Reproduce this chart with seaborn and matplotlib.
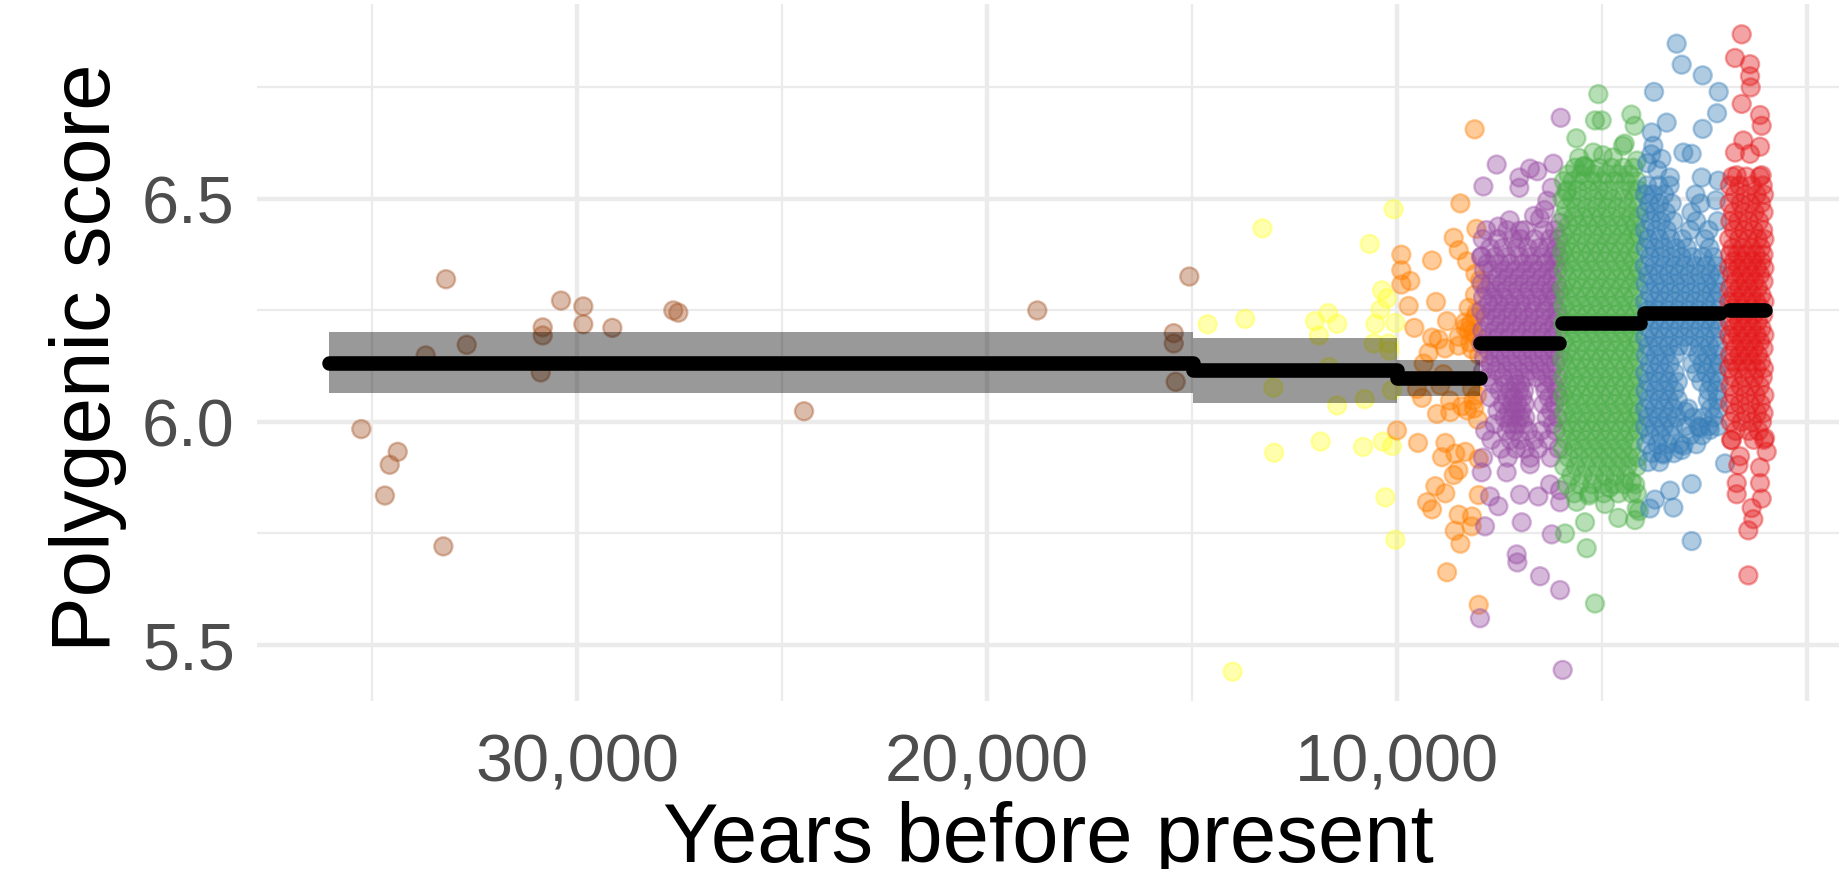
"""
Polygenic score through time
Individual scores by period, with period means and confidence bands
"""

import numpy as np
import pandas as pd
import matplotlib
matplotlib.use("Agg")
import matplotlib.pyplot as plt
import seaborn as sns

sns.set_theme(style="white")
plt.rcParams['font.family'] = ['Liberation Sans', 'DejaVu Sans']

PERIODS = ['Upper Paleolithic', 'Late Paleolithic', 'Mesolithic', 'Neolithic',
           'Chalcolithic', 'Bronze Age', 'Historical']
PERIOD_COLORS = ['#A65628', '#FFFF33', '#FF7F00', '#984EA3',
                 '#4DAF4A', '#377EB8', '#E41A1C']

# period mean segments and their bands
SEG_START = [36050, 14980, 10000, 7976, 5984, 3976, 1902]
SEG_END = [14980, 10000, 7975, 6041, 4073, 2122, 1024]
SEG_MEAN = [6.133, 6.116, 6.099, 6.178, 6.222, 6.245, 6.251]
SEG_LOW = [6.065, 6.043, 6.059, 6.165, 6.209, 6.232, 6.236]
SEG_HIGH = [6.202, 6.188, 6.138, 6.191, 6.235, 6.258, 6.266]

X_TICKS = [30000, 20000, 10000, 0]
X_TICK_LABELS = ['30,000', '20,000', '10,000', '']
X_MINOR = [35000, 25000, 15000, 5000]
Y_TICKS = [5.5, 6.0, 6.5]
Y_MINOR = [5.75, 6.25, 6.75]

# ---- individual samples (years before present, score) ----
brown = [(35261, 5.984), (34686, 5.835), (34568, 5.904), (34373, 5.933),
         (33195, 6.320), (33260, 5.721), (33690, 6.149), (32690, 6.173), (30837, 6.212),
         (30837, 6.194), (30885, 6.111), (30390, 6.272), (29846, 6.259), (29846, 6.219),
         (29138, 6.211), (27651, 6.250), (27529, 6.245), (24463, 6.024), (18773, 6.250),
         (15066, 6.326), (15446, 6.199), (15446, 6.176), (15398, 6.090)]

yellow = [(13282, 6.434), (14619, 6.219), (13703, 6.231), (13015, 6.077), (12998, 5.931),
          (14011, 5.440), (12002, 6.226), (11677, 6.244), (11459, 6.220), (11904, 6.194),
          (11661, 6.123), (11459, 6.037), (11864, 5.956), (10827, 5.944), (10786, 6.051),
          (10665, 6.399), (10081, 6.477), (10365, 6.295), (10243, 6.277), (10405, 6.252),
          (10527, 6.220), (10041, 6.222), (10567, 6.176), (10203, 6.176), (10186, 6.160),
          (10122, 6.071), (10348, 5.956), (10122, 5.946), (10284, 5.831), (10041, 5.736)]

orange = [(8106, 6.656), (8455, 6.490), (8065, 6.433), (8618, 6.413), (8496, 6.385),
          (8293, 6.360), (8089, 6.332), (9146, 6.362), (9894, 6.375), (9894, 6.340),
          (9675, 6.316), (9894, 6.308), (9715, 6.260), (9049, 6.269), (9577, 6.211),
          (8780, 6.226), (8252, 6.256), (8089, 6.235), (8333, 6.211), (8496, 6.191),
          (9146, 6.189), (8984, 6.185), (9350, 6.131), (9228, 6.155), (8496, 6.171),
          (8171, 6.163), (9512, 6.074), (9390, 6.054), (9024, 6.018), (8699, 6.022),
          (8415, 6.035), (8293, 6.026), (8943, 6.082), (8171, 6.074), (10000, 5.981),
          (9488, 5.953), (8821, 5.953), (8902, 5.921), (8577, 5.929), (8333, 5.933),
          (8008, 5.917), (8618, 5.881), (9065, 5.856), (8821, 5.840), (9268, 5.820),
          (9146, 5.804), (8496, 5.792), (8171, 5.788), (8593, 5.756), (8455, 5.727),
          (8780, 5.663), (8008, 5.590), (8008, 5.836), (7976, 6.317), (8057, 6.246),
          (8341, 6.223), (8138, 6.201), (8219, 6.178), (8829, 6.165), (8870, 6.107),
          (8707, 6.048), (8138, 6.048), (8504, 5.892), (8179, 5.766), (8100, 6.285),
          (8050, 6.190), (8200, 6.220), (8000, 6.150), (8120, 6.030), (8050, 6.060),
          (8030, 6.005), (8250, 6.205)]

purple_outliers = [(6008, 6.682), (7569, 6.577), (7894, 6.528), (7016, 6.548), (7016, 6.525),
                   (6756, 6.568), (6577, 6.562), (6187, 6.579), (6228, 6.525), (6333, 6.496),
                   (6512, 6.456), (7529, 6.438), (7000, 6.429), (6024, 6.447), (7935, 6.371),
                   (7854, 5.766), (6959, 5.775), (7081, 5.703), (7065, 5.685), (6512, 5.654),
                   (6024, 5.623), (6228, 5.748), (7976, 5.560), (5959, 5.444), (7935, 5.887),
                   (7732, 5.833), (7529, 5.811), (7000, 5.837), (6553, 5.833), (6268, 5.860),
                   (6024, 5.820), (6024, 5.847), (7326, 5.887), (6756, 5.905), (6660, 6.462),
                   (7250, 6.452), (6400, 6.475)]

# dense cloud, read band by band: (score, ages)
purple_rows = [
    (6.43, [7820, 7310, 6880, 6420, 6150]),
    (6.41, [7910, 7540, 7180, 6990, 6640, 6270, 6060]),
    (6.39, [7730, 7420, 7090, 6810, 6530, 6330, 6110]),
    (6.37, [7950, 7610, 7330, 7010, 6760, 6470, 6200, 6050]),
    (6.355, [7800, 7490, 7240, 6920, 6680, 6390, 6140]),
    (6.34, [7880, 7680, 7380, 7120, 6850, 6570, 6300, 6080]),
    (6.325, [7560, 7290, 7020, 6740, 6460, 6210]),
    (6.31, [7940, 7720, 7450, 7170, 6900, 6620, 6360, 6100]),
    (6.295, [7830, 7600, 7340, 7060, 6790, 6520, 6260, 6045]),
    (6.28, [7900, 7650, 7400, 7130, 6870, 6600, 6330, 6140]),
    (6.265, [7770, 7520, 7260, 6980, 6710, 6440, 6190]),
    (6.25, [7950, 7690, 7430, 7190, 6940, 6660, 6390, 6090]),
    (6.235, [7850, 7580, 7300, 7040, 6780, 6510, 6240, 6060]),
    (6.22, [7740, 7470, 7210, 6950, 6690, 6420, 6170]),
    (6.205, [7920, 7630, 7370, 7100, 6830, 6560, 6300, 6080]),
    (6.19, [7800, 7540, 7280, 7000, 6740, 6470, 6210]),
    (6.175, [7940, 7690, 7410, 7150, 6880, 6610, 6350, 6110]),
    (6.16, [7760, 7500, 7230, 6960, 6700, 6430, 6160]),
    (6.145, [7880, 7620, 7350, 7080, 6820, 6540, 6280, 6050]),
    (6.13, [7720, 7460, 7190, 6910, 6650, 6380, 6130]),
    (6.115, [7900, 7580, 7310, 7040, 6770, 6500, 6230]),
    (6.10, [7790, 7420, 7140, 6870, 6600, 6330, 6070]),
    (6.085, [7650, 7360, 7090, 6980, 6420, 6180]),
    (6.07, [7500, 7240, 7020, 6900, 6380, 6100]),
    (6.055, [7730, 7320, 7160, 6940, 6300, 6050]),
    (6.04, [7420, 7200, 7060, 6880, 6430, 6160]),
    (6.025, [7550, 7280, 7110, 6960, 6250]),
    (6.01, [7380, 7190, 7000, 6870, 6350, 6080]),
    (5.995, [7620, 7260, 7080, 6920, 6200]),
    (5.98, [7850, 7330, 7140, 6800, 6480, 6130]),
    (5.96, [7700, 7230, 6990, 6650, 6310]),
    (5.94, [7460, 7100, 6880, 6560, 6060]),
    (5.92, [7900, 7300, 6750, 6250]),
]

green_outliers = [(5090, 6.735), (5171, 6.676), (5008, 6.676), (5626, 6.636), (4285, 6.689),
                  (4204, 6.664), (4447, 6.624), (5211, 6.604), (5455, 6.573), (4732, 6.593),
                  (5870, 6.516), (5423, 6.574), (4488, 6.619), (5171, 5.593), (5374, 5.717),
                  (5415, 5.775), (5902, 5.750), (4927, 5.816), (4602, 5.785), (4195, 5.780),
                  (4155, 5.806), (5618, 5.821), (4276, 5.866), (4150, 5.840), (4100, 5.800),
                  (5560, 6.592), (4980, 6.598), (4150, 6.586), (5320, 5.835), (4820, 5.852)]

green_rows = [
    (6.57, [5660, 5380, 5070, 4760, 4480, 4230]),
    (6.555, [5820, 5510, 5190, 4900, 4610, 4330]),
    (6.54, [5930, 5720, 5450, 5240, 4990, 4700, 4420, 4150]),
    (6.52, [5850, 5600, 5330, 5080, 4850, 4560, 4290, 4110]),
    (6.50, [5960, 5740, 5490, 5210, 4970, 4740, 4480, 4220]),
    (6.48, [5880, 5630, 5380, 5130, 4880, 4630, 4380, 4130]),
    (6.46, [5940, 5700, 5460, 5250, 5010, 4780, 4540, 4300, 4100]),
    (6.44, [5820, 5590, 5340, 5100, 4860, 4610, 4400, 4180]),
    (6.42, [5950, 5730, 5480, 5220, 4990, 4750, 4500, 4260, 4090]),
    (6.40, [5870, 5620, 5390, 5150, 4910, 4680, 4440, 4200]),
    (6.38, [5960, 5750, 5510, 5270, 5040, 4800, 4570, 4330, 4120]),
    (6.36, [5880, 5640, 5400, 5170, 4930, 4690, 4460, 4230]),
    (6.34, [5930, 5710, 5470, 5240, 5000, 4760, 4520, 4290, 4100]),
    (6.32, [5850, 5600, 5360, 5120, 4880, 4650, 4410, 4180]),
    (6.30, [5960, 5740, 5500, 5270, 5030, 4800, 4560, 4330, 4110]),
    (6.28, [5890, 5650, 5410, 5180, 4940, 4710, 4470, 4240]),
    (6.26, [5940, 5720, 5480, 5240, 5010, 4770, 4540, 4300, 4090]),
    (6.24, [5860, 5610, 5380, 5140, 4900, 4670, 4430, 4200]),
    (6.22, [5950, 5730, 5500, 5260, 5020, 4790, 4550, 4320, 4120]),
    (6.20, [5880, 5640, 5400, 5170, 4930, 4700, 4460, 4230]),
    (6.18, [5930, 5710, 5470, 5230, 5000, 4760, 4530, 4290, 4100]),
    (6.16, [5850, 5620, 5380, 5150, 4910, 4680, 4440, 4210]),
    (6.14, [5960, 5740, 5510, 5270, 5040, 4800, 4570, 4330, 4110]),
    (6.12, [5870, 5630, 5400, 5160, 4930, 4690, 4450, 4220]),
    (6.10, [5940, 5710, 5480, 5240, 5010, 4770, 4540, 4300, 4090]),
    (6.08, [5860, 5620, 5390, 5150, 4920, 4680, 4450, 4210]),
    (6.06, [5950, 5730, 5490, 5260, 5020, 4790, 4550, 4320, 4120]),
    (6.04, [5880, 5650, 5410, 5170, 4940, 4700, 4470, 4230]),
    (6.02, [5920, 5700, 5460, 5230, 4990, 4760, 4520, 4290, 4100]),
    (6.00, [5850, 5610, 5370, 5140, 4900, 4670, 4430, 4200]),
    (5.98, [5940, 5720, 5490, 5250, 5020, 4780, 4550, 4310, 4110]),
    (5.96, [5870, 5640, 5400, 5160, 4930, 4690, 4460, 4220]),
    (5.94, [5950, 5690, 5450, 5210, 4970, 4740, 4500, 4270]),
    (5.92, [5810, 5560, 5300, 5060, 4820, 4580, 4340, 4130]),
    (5.90, [5920, 5640, 5380, 5110, 4860, 4620, 4380, 4150]),
    (5.88, [5750, 5470, 5200, 4930, 4680, 4420]),
    (5.86, [5860, 5550, 5240, 4990, 4710, 4460, 4190]),
    (5.84, [5680, 5310, 4960, 4600, 4280]),
]

blue_outliers = [(3179, 6.848), (3057, 6.801), (2545, 6.777), (3732, 6.740), (2154, 6.740),
                 (2195, 6.692), (2545, 6.657), (3423, 6.671), (3789, 6.649), (3748, 6.619),
                 (3016, 6.604), (2813, 6.601), (2569, 6.548), (2163, 6.541), (3341, 6.548),
                 (2220, 6.497), (2813, 5.733), (2813, 5.861), (3260, 5.808), (3341, 5.846),
                 (3707, 5.826), (3016, 5.947), (3057, 5.937), (2000, 5.907), (2976, 6.023),
                 (2366, 5.982), (2610, 5.987), (3504, 5.927), (3829, 5.806), (3900, 6.58),
                 (3800, 6.60), (3650, 6.565), (3550, 6.59)]

blue_rows = [
    (6.53, [3900, 3620, 3350]),
    (6.51, [3950, 3760, 3480, 2720]),
    (6.49, [3850, 3600, 3300, 2600]),
    (6.47, [3930, 3700, 3440, 2820]),
    (6.45, [3820, 3560, 3260, 2700, 2180]),
    (6.43, [3950, 3680, 3420, 2850, 2400]),
    (6.41, [3870, 3600, 3330, 3040, 2490]),
    (6.39, [3940, 3720, 3480, 3200, 2930, 2380]),
    (6.37, [3830, 3570, 3310, 3060, 2800, 2540, 2280]),
    (6.35, [3960, 3730, 3480, 3230, 2980, 2720, 2460, 2200]),
    (6.33, [3870, 3620, 3370, 3120, 2870, 2610, 2360, 2140]),
    (6.31, [3940, 3700, 3460, 3210, 2960, 2700, 2450, 2220]),
    (6.29, [3830, 3590, 3340, 3090, 2840, 2590, 2330, 2140]),
    (6.27, [3950, 3720, 3480, 3230, 2980, 2730, 2480, 2240]),
    (6.25, [3880, 3640, 3390, 3140, 2890, 2640, 2390, 2160]),
    (6.23, [3940, 3700, 3460, 3210, 2960, 2710, 2460, 2230]),
    (6.21, [3850, 3600, 3360, 3110, 2860, 2610, 2360, 2150]),
    (6.19, [3950, 3730, 3480, 3240, 2990, 2740, 2490, 2240]),
    (6.17, [3870, 3630, 3380, 3130, 2870, 2620, 2380, 2170]),
    (6.15, [3930, 3690, 3450, 3220, 2660, 2430, 2200]),
    (6.13, [3840, 3600, 3350, 2800, 2550, 2310, 2140]),
    (6.11, [3950, 3710, 3470, 3230, 2700, 2460, 2220]),
    (6.09, [3870, 3620, 3380, 3150, 2580, 2340, 2150]),
    (6.07, [3940, 3700, 3460, 3230, 2400, 2200]),
    (6.05, [3860, 3610, 3370, 3150, 2420, 2180]),
    (6.03, [3950, 3720, 3480, 3250, 2900, 2350, 2160]),
    (6.01, [3880, 3640, 3400, 3180, 2780, 2540, 2280]),
    (5.99, [3950, 3720, 3490, 3260, 2960, 2650, 2400, 2180]),
    (5.97, [3830, 3570, 3320, 2840, 2560]),
    (5.95, [3920, 3650, 3400, 3100, 2700]),
    (5.93, [3780, 3520, 3250]),
    (5.91, [3880, 3600]),
]

red_outliers = [(1593, 6.869), (1756, 6.816), (1390, 6.802), (1390, 6.775), (1374, 6.750),
                (1593, 6.713), (1146, 6.688), (1106, 6.664), (1553, 6.631), (1756, 6.604),
                (1390, 6.601), (1146, 6.617), (1715, 6.553), (1106, 6.553), (1431, 5.656),
                (1431, 5.757), (1309, 5.782), (1350, 5.807), (1106, 5.828), (1715, 5.838),
                (1715, 5.863), (1675, 5.903), (1146, 5.863), (1146, 5.898), (1837, 5.959),
                (984, 5.933), (1025, 5.964), (1634, 5.923)]

red_rows = [
    (6.55, [1820, 1480, 1150]),
    (6.53, [1880, 1650, 1350, 1080]),
    (6.51, [1760, 1500, 1230, 1050]),
    (6.49, [1890, 1620, 1380, 1120]),
    (6.47, [1800, 1540, 1280, 1060]),
    (6.45, [1870, 1680, 1420, 1170]),
    (6.43, [1780, 1530, 1300, 1070]),
    (6.41, [1900, 1660, 1440, 1200, 1040]),
    (6.39, [1820, 1580, 1350, 1120]),
    (6.375, [1880, 1700, 1480, 1250, 1060]),
    (6.36, [1790, 1560, 1330, 1110]),
    (6.345, [1900, 1680, 1450, 1220, 1040]),
    (6.33, [1830, 1600, 1370, 1140]),
    (6.315, [1750, 1510, 1280, 1060]),
    (6.30, [1880, 1660, 1430, 1200]),
    (6.285, [1800, 1570, 1340, 1110]),
    (6.27, [1900, 1700, 1470, 1240, 1040]),
    (6.255, [1820, 1590, 1360, 1130]),
    (6.24, [1760, 1530, 1300, 1070]),
    (6.225, [1890, 1660, 1430, 1200]),
    (6.21, [1800, 1570, 1340, 1110]),
    (6.195, [1900, 1690, 1460, 1230, 1040]),
    (6.18, [1830, 1600, 1370, 1140]),
    (6.165, [1760, 1520, 1290, 1060]),
    (6.15, [1880, 1650, 1420, 1190]),
    (6.135, [1810, 1580, 1350, 1120]),
    (6.12, [1900, 1690, 1460, 1230, 1050]),
    (6.10, [1800, 1540, 1290, 1080]),
    (6.08, [1870, 1620, 1380, 1150]),
    (6.06, [1780, 1500, 1250, 1040]),
    (6.04, [1880, 1640, 1390, 1130]),
    (6.02, [1760, 1480, 1220, 1060]),
    (6.00, [1860, 1600, 1330, 1100]),
    (5.98, [1740, 1420, 1180]),
    (5.96, [1850, 1300, 1050]),
]


def rows_to_points(rows):
    """Unpack (score, [ages]) bands into (age, score) pairs"""
    return [(age, score) for score, ages in rows for age in ages]


def build_frame():
    groups = [
        brown,
        yellow,
        orange,
        purple_outliers + rows_to_points(purple_rows),
        green_outliers + rows_to_points(green_rows),
        blue_outliers + rows_to_points(blue_rows),
        red_outliers + rows_to_points(red_rows),
    ]
    frames = []
    for period, pts in zip(PERIODS, groups):
        d = pd.DataFrame(pts, columns=['age', 'score'])
        d['period'] = period
        frames.append(d)
    return pd.concat(frames, ignore_index=True)


def main():
    df = build_frame()

    W, H = 1839, 870
    fig = plt.figure(figsize=(W / 100, H / 100), dpi=100)
    ax = fig.add_axes([257 / W, 1 - 702 / H, (W - 257) / W, 697 / H])

    sns.scatterplot(data=df, x='age', y='score', hue='period',
                    hue_order=PERIODS, palette=PERIOD_COLORS,
                    s=170, alpha=0.4, edgecolor='face', linewidth=1.7,
                    legend=False, ax=ax, zorder=2)

    # confidence bands and period means
    for x0, x1, lo, hi, m in zip(SEG_START, SEG_END, SEG_LOW, SEG_HIGH, SEG_MEAN):
        ax.fill_between([x0, x1], [lo, lo], [hi, hi], color='black',
                        alpha=0.4, linewidth=0, zorder=3)
        ax.plot([x0, x1], [m, m], color='black', linewidth=10.5,
                solid_capstyle='round', zorder=4)

    ax.set_xlim(37805, -780)
    ax.set_ylim(5.3744, 6.937)

    ax.set_xticks(X_TICKS, labels=X_TICK_LABELS)
    ax.set_xticks(X_MINOR, minor=True)
    ax.set_yticks(Y_TICKS, labels=[f'{v:.1f}' for v in Y_TICKS])
    ax.set_yticks(Y_MINOR, minor=True)

    ax.set_axisbelow(True)
    ax.grid(which='major', color='#EBEBEB', linewidth=3.2)
    ax.grid(which='minor', color='#EBEBEB', linewidth=1.6)
    ax.tick_params(which='both', length=0)
    ax.tick_params(axis='x', pad=23, labelsize=48, labelcolor='#4D4D4D')
    ax.tick_params(axis='y', pad=16, labelsize=48, labelcolor='#4D4D4D')
    sns.despine(ax=ax, left=True, bottom=True)

    ax.set_xlabel('')
    ax.set_ylabel('')
    fig.text(1048 / W, 8 / H, 'Years before present', fontsize=60,
             ha='center', va='baseline', color='black')
    fig.text(88 / W, 1 - 358 / H, 'Polygenic score', fontsize=60, rotation=90,
             ha='center', va='center', color='black')

    fig.savefig('out.png', dpi=100, facecolor='white')
    print(f"Saved out.png with {len(df)} samples")


if __name__ == "__main__":
    main()
